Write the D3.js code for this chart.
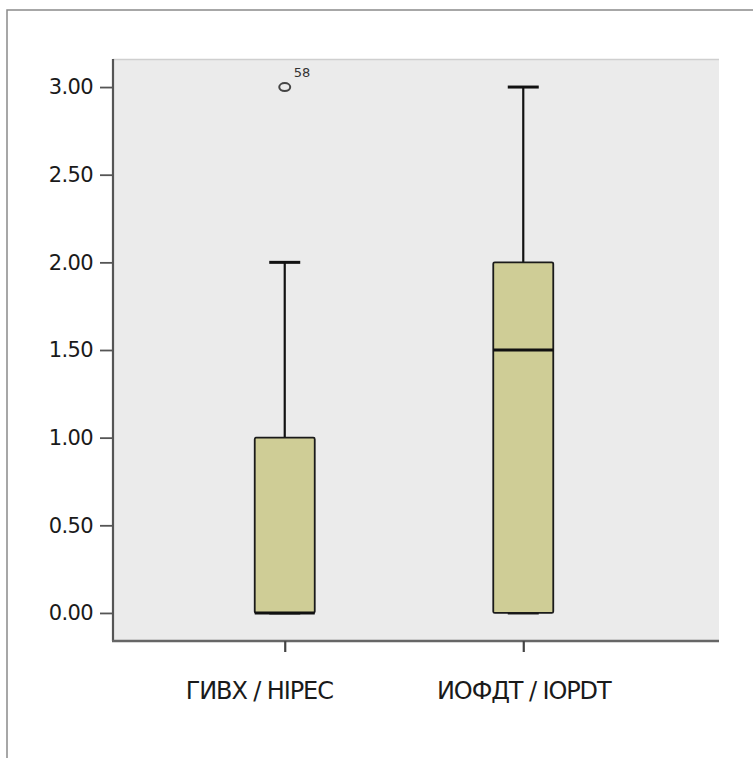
<!DOCTYPE html>
<html>
<head>
<meta charset="utf-8">
<script src="https://cdn.jsdelivr.net/npm/d3@7"></script>
<style>
  html, body { margin: 0; padding: 0; background: #fff; }
  svg { display: block; }
</style>
</head>
<body>
<svg id="chart" width="753" height="758"></svg>
<script>
// Group labels
const categories = ["ГИВХ / HIPEC", "ИОФДТ / IOPDT"];
// Five-number summaries per group
const whiskerLow = [0, 0];
const q1 = [0, 0];
const median = [0, 1.5];
const q3 = [1, 2];
const whiskerHigh = [2, 3];
// Outliers: group index, value, case label
const outlierGroup = [0];
const outlierValue = [3];
const outlierLabel = ["58"];
// Y axis tick values
const yTicks = [0, 0.5, 1, 1.5, 2, 2.5, 3];

const svg = d3.select("#chart");

// Outer frame
svg.append("rect")
  .attr("x", 7).attr("y", 10)
  .attr("width", 800).attr("height", 800)
  .attr("fill", "none").attr("stroke", "#8a8a8a").attr("stroke-width", 1.5);

const plot = { left: 113, right: 719, top: 59, bottom: 641 };

const y = d3.scaleLinear()
  .domain([-0.16, 3.16])
  .range([plot.bottom, plot.top]);

const x = d3.scalePoint()
  .domain(categories)
  .range([plot.left, plot.right - 24])
  .padding(0.72);

// Plot background
svg.append("rect")
  .attr("x", plot.left).attr("y", plot.top)
  .attr("width", plot.right - plot.left).attr("height", plot.bottom - plot.top)
  .attr("fill", "#ebebeb");
svg.append("line")
  .attr("x1", plot.left).attr("x2", plot.right)
  .attr("y1", plot.top + 0.5).attr("y2", plot.top + 0.5)
  .attr("stroke", "#cfcfcf").attr("stroke-width", 1.5);

// Y axis
const yAxis = d3.axisLeft(y)
  .tickValues(yTicks)
  .tickFormat(d3.format(".2f"))
  .tickSize(13)
  .tickPadding(7)
  .tickSizeOuter(0);
const gy = svg.append("g")
  .attr("transform", `translate(${plot.left},0)`)
  .call(yAxis);
gy.select(".domain")
  .attr("d", `M0,${plot.top}V${plot.bottom}`)
  .attr("stroke", "#555").attr("stroke-width", 2.2);
gy.selectAll(".tick line").attr("stroke", "#555").attr("stroke-width", 1.8);
gy.selectAll(".tick text")
  .attr("font-family", "DejaVu Sans, sans-serif")
  .attr("font-size", 21)
  .attr("fill", "#1a1a1a")
  .attr("letter-spacing", -0.6);

// X axis
const xAxis = d3.axisBottom(x)
  .tickSize(11)
  .tickPadding(30)
  .tickSizeOuter(0);
const gx = svg.append("g")
  .attr("transform", `translate(0,${plot.bottom})`)
  .call(xAxis);
gx.select(".domain")
  .attr("d", `M${plot.left - 1},0H${plot.right}`)
  .attr("stroke", "#666").attr("stroke-width", 2.6);
gx.selectAll(".tick line").attr("stroke", "#444").attr("stroke-width", 2.2);
gx.selectAll(".tick text")
  .attr("font-family", "DejaVu Sans, sans-serif")
  .attr("font-size", 24)
  .attr("fill", "#1a1a1a")
  .attr("letter-spacing", -1.1)
  .attr("dx", (d, i) => i === 0 ? -26 : 0);

// Boxes
const boxW = 60, capW = 31;
const groups = categories.map((c, i) => ({
  cat: c, lo: whiskerLow[i], q1: q1[i], med: median[i], q3: q3[i], hi: whiskerHigh[i]
}));

const g = svg.append("g");
groups.forEach(d => {
  const cx = x(d.cat);
  // whisker stems
  g.append("line")
    .attr("x1", cx).attr("x2", cx)
    .attr("y1", y(d.hi)).attr("y2", y(d.q3))
    .attr("stroke", "#111").attr("stroke-width", 2.2);
  g.append("line")
    .attr("x1", cx).attr("x2", cx)
    .attr("y1", y(d.q1)).attr("y2", y(d.lo))
    .attr("stroke", "#111").attr("stroke-width", 2.2);
  // caps
  [d.hi, d.lo].forEach(v => {
    g.append("line")
      .attr("x1", cx - capW / 2).attr("x2", cx + capW / 2)
      .attr("y1", y(v)).attr("y2", y(v))
      .attr("stroke", "#111").attr("stroke-width", 3);
  });
  // box
  g.append("rect")
    .attr("x", cx - boxW / 2).attr("y", y(d.q3))
    .attr("width", boxW).attr("height", y(d.q1) - y(d.q3))
    .attr("rx", 1.5)
    .attr("fill", "#cfcd96").attr("stroke", "#1a1a1a").attr("stroke-width", 1.8);
  // median
  g.append("line")
    .attr("x1", cx - boxW / 2).attr("x2", cx + boxW / 2)
    .attr("y1", y(d.med)).attr("y2", y(d.med))
    .attr("stroke", "#111").attr("stroke-width", 3);
});

// Outliers
outlierValue.forEach((v, i) => {
  const cx = x(categories[outlierGroup[i]]);
  g.append("ellipse")
    .attr("cx", cx).attr("cy", y(v))
    .attr("rx", 5.5).attr("ry", 4)
    .attr("fill", "none").attr("stroke", "#444").attr("stroke-width", 2);
  g.append("text")
    .attr("x", cx + 9).attr("y", y(v) - 10)
    .attr("font-family", "DejaVu Sans, sans-serif")
    .attr("font-size", 13)
    .attr("fill", "#333")
    .text(outlierLabel[i]);
});
</script>
</body>
</html>
